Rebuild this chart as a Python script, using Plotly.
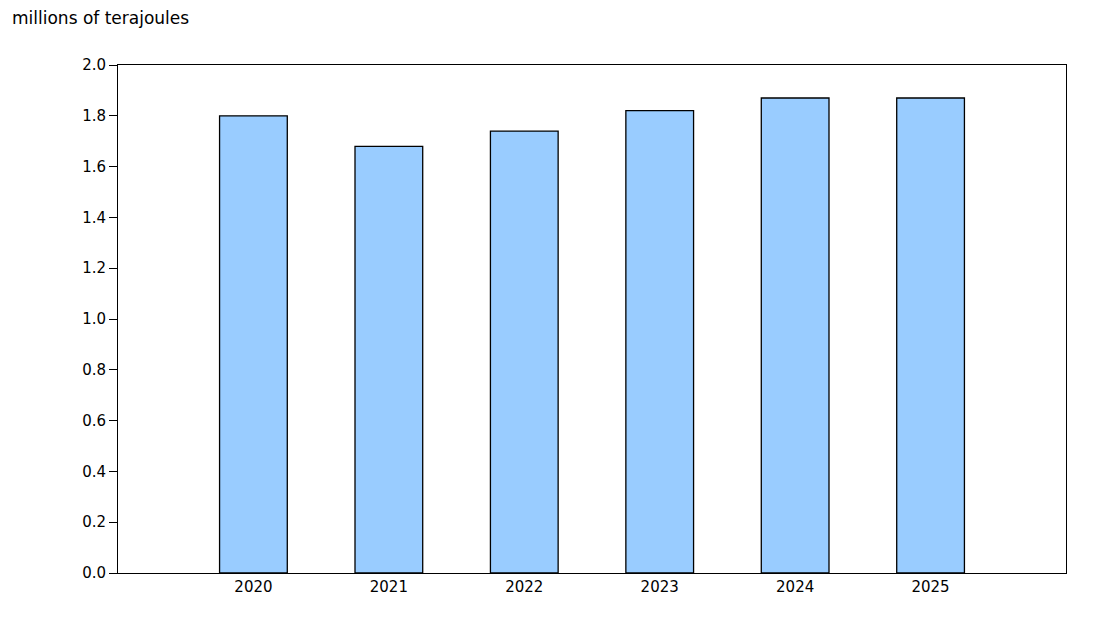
import plotly.graph_objects as go

years = ["2020", "2021", "2022", "2023", "2024", "2025"]
values = [1.80, 1.68, 1.74, 1.82, 1.87, 1.87]
ytick_vals = [0.0, 0.2, 0.4, 0.6, 0.8, 1.0, 1.2, 1.4, 1.6, 1.8, 2.0]
ytick_text = ["0.0", "0.2", "0.4", "0.6", "0.8", "1.0", "1.2", "1.4", "1.6", "1.8", "2.0"]

fig = go.Figure(go.Bar(
    x=years, y=values, width=0.5,
    marker=dict(color="#99ccff", line=dict(color="black", width=1.3)),
))
fig.update_layout(
    width=1106, height=627,
    margin=dict(l=110, r=48, t=57, b=62),
    plot_bgcolor="white", paper_bgcolor="white",
    font=dict(family="DejaVu Sans, Verdana", size=15, color="black"),
    showlegend=False,
    annotations=[dict(text="millions of terajoules", xref="paper", yref="paper",
                      x=-0.114, y=1.0925, xanchor="left", yanchor="middle",
                      showarrow=False, font=dict(size=17))],
)
fig.update_xaxes(type="category", range=[-1, 6], showline=True, linecolor="black",
                 mirror=True, ticks="", showgrid=False, linewidth=1)
fig.update_yaxes(range=[0, 2.0], tickvals=ytick_vals, ticktext=ytick_text,
                 showline=True, linecolor="black", mirror=True, ticks="outside",
                 ticklen=8, tickcolor="black", showgrid=False, linewidth=1, zeroline=False)
fig.write_html("out.html")
